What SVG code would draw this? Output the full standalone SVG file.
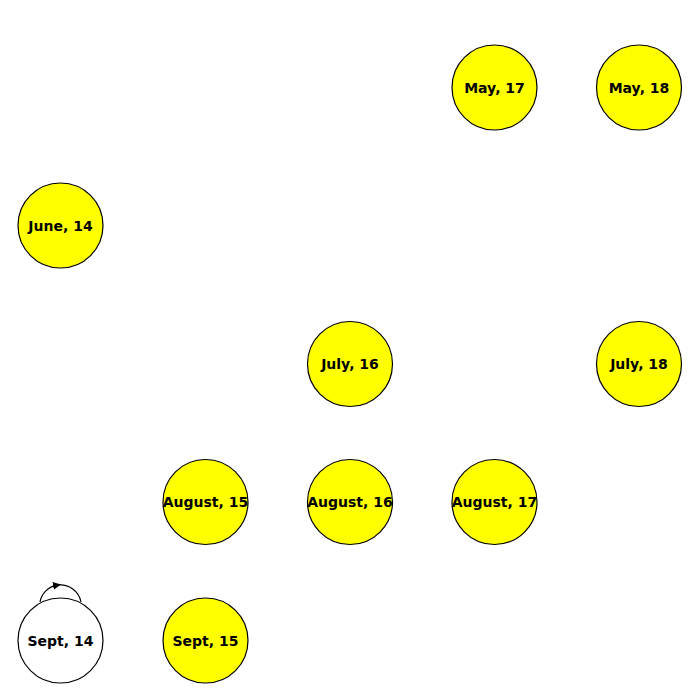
<svg xmlns="http://www.w3.org/2000/svg" width="700" height="700" viewBox="0 0 700 700">
<style>
.n circle{stroke:#000;stroke-width:1.2;fill:#ffff00}
.n text{font-family:"DejaVu Sans",sans-serif;font-weight:bold;font-size:14px;text-anchor:middle;fill:#000}
.w circle{fill:#fff}
.e{fill:none;stroke:#000;stroke-width:1.2}
</style>
<defs>
<marker id="ah" viewBox="0 0 10 10" refX="5" refY="5" markerWidth="8" markerHeight="8" markerUnits="userSpaceOnUse" orient="auto">
<path d="M0,0 L10,5 L0,10 z" fill="#000"/>
</marker>
</defs>
<rect width="700" height="700" fill="#fff"/>
<g id="edges">
<path class="e" d="M40,602 A21,21 0 0 1 57,585.2" marker-end="url(#ah)"/>
<path class="e" d="M57,585.2 A21,21 0 0 1 81,602"/>
</g>
<g id="may17" class="n"><circle cx="494.5" cy="87.5" r="42.5"/><text x="494.5" y="92.5">May, 17</text></g>
<g id="may18" class="n"><circle cx="639" cy="87.5" r="42.5"/><text x="639" y="92.5">May, 18</text></g>
<g id="june14" class="n"><circle cx="60.5" cy="225.5" r="42.5"/><text x="60.5" y="230.5">June, 14</text></g>
<g id="july16" class="n"><circle cx="350" cy="364" r="42.5"/><text x="350" y="369">July, 16</text></g>
<g id="july18" class="n"><circle cx="639" cy="364" r="42.5"/><text x="639" y="369">July, 18</text></g>
<g id="aug15" class="n"><circle cx="205.5" cy="502" r="42.5"/><text x="205.5" y="507">August, 15</text></g>
<g id="aug16" class="n"><circle cx="350" cy="502" r="42.5"/><text x="350" y="507">August, 16</text></g>
<g id="aug17" class="n"><circle cx="494.5" cy="502" r="42.5"/><text x="494.5" y="507">August, 17</text></g>
<g id="sept14" class="n w"><circle cx="60.5" cy="640.5" r="42.5"/><text x="60.5" y="645.5">Sept, 14</text></g>
<g id="sept15" class="n"><circle cx="205.5" cy="640.5" r="42.5"/><text x="205.5" y="645.5">Sept, 15</text></g>
</svg>
